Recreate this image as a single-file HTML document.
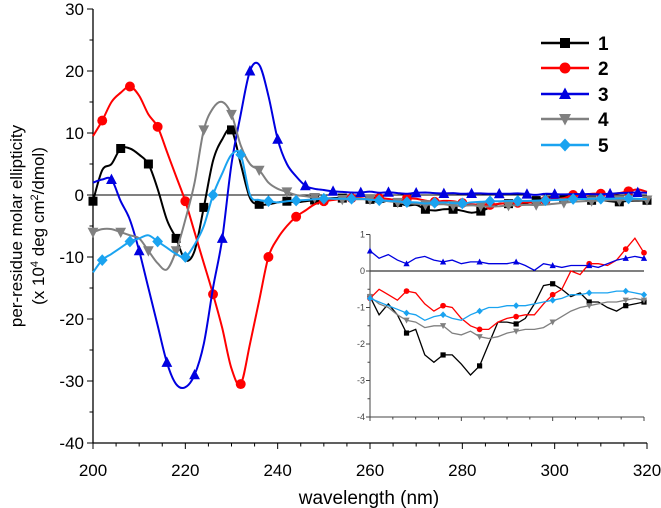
<!DOCTYPE html>
<html><head><meta charset="utf-8"><style>
html,body{margin:0;padding:0;background:#fff;}
svg{display:block;font-family:"Liberation Sans",Arial,sans-serif;}
</style></head><body>
<svg id="chart" width="661" height="508" viewBox="0 0 661 508" xmlns="http://www.w3.org/2000/svg">
<g id="main"></g>
<g id="inset"></g>
<g id="legend"></g>
<text x="369" y="504" font-size="19" text-anchor="middle" fill="#000">wavelength (nm)</text>
<text transform="translate(22,226) rotate(-90)" font-size="17" text-anchor="middle" fill="#000">per-residue molar ellipticity</text>
<text transform="translate(44,226) rotate(-90)" font-size="17" text-anchor="middle" fill="#000">(x 10<tspan font-size="11" dy="-6">4</tspan><tspan dy="6"> deg cm</tspan><tspan font-size="11" dy="-6">2</tspan><tspan dy="6">/dmol)</tspan></text>
</svg>
<script>
const mainX = [200,202,204,206,208,210,212,214,216,218,220,222,224,226,228,230,232,234,236,238,240,242,244,246,248,250,252,254,256,258];
const main1 = [-1,4,5,7.5,7.5,6.5,5,1,-4,-7,-10.5,-9,-2,5.5,9,10.5,5,-0.5,-1.5,-1.5,-1.2,-1,-1.2,-1,-0.8,-0.6,-0.5,-0.5,-0.5,-0.6];
const main2 = [9.5,12,15,16.5,17.5,16,13,11,7,3,-1,-6,-11,-16,-21.5,-28,-30.5,-24,-17,-10,-7,-5,-3.5,-2.5,-1.5,-1,-0.8,-0.6,-0.5,-0.5];
const main3 = [2,2.5,2.5,-1,-4,-9,-15,-21,-27,-30.5,-31,-29,-24,-15,-7,5,13,20,21,16,9,5,3,1.5,1,0.8,0.6,0.5,0.4,0.4];
const main4 = [-6,-5.5,-5.5,-6,-6.5,-7,-9,-11,-12,-9,-4,2,10.5,14,15,13,8,5,4,2,1,0.5,0,-0.2,-0.4,-0.5,-0.6,-0.7,-0.7,-0.7];
const main5 = [-12.5,-10.5,-9.5,-8.5,-7.5,-7,-6.5,-7.5,-8.5,-9.5,-10,-8,-5,0,3.5,6.5,6.5,0,-0.8,-1,-1.2,-1,-0.9,-0.8,-0.7,-0.6,-0.6,-0.6,-0.6,-0.6];
const insetX = [260,262,264,266,268,270,272,274,276,278,280,282,284,286,288,290,292,294,296,298,300,302,304,306,308,310,312,314,316,318,320];
const inset1 = [-0.7,-1.2,-0.9,-1.2,-1.7,-1.6,-2.3,-2.5,-2.3,-2.3,-2.55,-2.85,-2.6,-2.0,-1.4,-1.4,-1.45,-1.3,-0.9,-0.4,-0.35,-0.5,-0.7,-0.6,-0.85,-0.85,-1.0,-1.1,-0.95,-0.9,-0.85];
const inset2 = [-0.75,-0.5,-0.65,-0.8,-0.55,-0.6,-0.9,-1.1,-0.95,-1.0,-1.3,-1.5,-1.6,-1.6,-1.4,-1.3,-1.25,-1.2,-1.2,-0.9,-0.65,-0.5,0,-0.1,0.2,0.2,0.15,0.3,0.6,0.9,0.5];
const inset3 = [0.55,0.35,0.45,0.3,0.2,0.35,0.4,0.3,0.25,0.3,0.2,0.25,0.25,0.2,0.2,0.2,0.25,0.15,0.02,0.2,0.15,0.1,0.15,0.15,0.15,0.1,0.2,0.3,0.35,0.4,0.35];
const inset4 = [-0.7,-0.9,-1.0,-1.2,-1.35,-1.4,-1.55,-1.5,-1.5,-1.7,-1.75,-1.65,-1.8,-1.85,-1.8,-1.7,-1.65,-1.6,-1.6,-1.55,-1.4,-1.25,-1.1,-1.0,-0.95,-0.9,-0.85,-0.85,-0.8,-0.75,-0.8];
const inset5 = [-0.75,-0.85,-0.95,-1.05,-1.15,-1.2,-1.35,-1.25,-1.2,-1.3,-1.35,-1.2,-1.1,-1.0,-1.0,-0.95,-0.95,-0.95,-0.9,-0.85,-0.8,-0.75,-0.65,-0.65,-0.6,-0.6,-0.6,-0.55,-0.55,-0.6,-0.65];
const seriesLabels = ["1","2","3","4","5"];
const xTicks = [200,220,240,260,280,300,320];
const yTicks = [30,20,10,0,-10,-20,-30,-40];
const insetYTicks = [1,0,-1,-2,-3,-4];

const NS="http://www.w3.org/2000/svg";
const colors=["#000000","#ff0000","#0000e0","#808080","#1aa3f0"];
const markers=["square","circle","up","down","diamond"];
const mainSeries=[main1,main2,main3,main4,main5];
const insetSeries=[inset1,inset2,inset3,inset4,inset5];
function mk(tag,attrs,parent){const e=document.createElementNS(NS,tag);for(const k in attrs)e.setAttribute(k,attrs[k]);parent.appendChild(e);return e;}
const mx=v=>93+(v-200)*(647-93)/120;
const my=v=>195-v*6.2;
const ix=v=>370+(v-260)*(644-370)/60;
const iy=v=>271-v*36.5;
function smooth(P){
  let d="M"+P[0][0].toFixed(1)+","+P[0][1].toFixed(1);
  for(let i=0;i<P.length-1;i++){
    const p0=P[Math.max(0,i-1)],p1=P[i],p2=P[i+1],p3=P[Math.min(P.length-1,i+2)];
    const c1x=p1[0]+(p2[0]-p0[0])/6,c1y=p1[1]+(p2[1]-p0[1])/6;
    const c2x=p2[0]-(p3[0]-p1[0])/6,c2y=p2[1]-(p3[1]-p1[1])/6;
    d+=` C${c1x.toFixed(1)},${c1y.toFixed(1)} ${c2x.toFixed(1)},${c2y.toFixed(1)} ${p2[0].toFixed(1)},${p2[1].toFixed(1)}`;
  }
  return d;
}
function marker(g,type,x,y,s,c){
  let e;
  if(type==="square") e=mk("rect",{x:x-s,y:y-s,width:2*s,height:2*s,fill:c},g);
  else if(type==="circle") e=mk("circle",{cx:x,cy:y,r:s*1.1,fill:c},g);
  else if(type==="up") e=mk("polygon",{points:`${x},${y-s*1.3} ${x-s*1.2},${y+s} ${x+s*1.2},${y+s}`,fill:c},g);
  else if(type==="down") e=mk("polygon",{points:`${x},${y+s*1.3} ${x-s*1.2},${y-s} ${x+s*1.2},${y-s}`,fill:c},g);
  else e=mk("polygon",{points:`${x},${y-s*1.3} ${x+s*1.2},${y} ${x},${y+s*1.3} ${x-s*1.2},${y}`,fill:c},g);
  
  
}
const gm=document.getElementById('main');
let z=mk("line",{x1:93,y1:my(0),x2:647,y2:my(0),stroke:"#000","stroke-width":1},gm);


let ya=mk("line",{x1:93,y1:my(30),x2:93,y2:my(-40),stroke:"#000","stroke-width":1.3},gm);


let xa=mk("line",{x1:93,y1:my(-40),x2:647,y2:my(-40),stroke:"#000","stroke-width":1.3},gm);


for(let v=200;v<=320;v+=5){const maj=v%20===0;mk("line",{x1:mx(v),y1:my(-40),x2:mx(v),y2:my(-40)+(maj?6:3.5),stroke:"#000"},gm);}
for(let v=-40;v<=30;v+=5){const maj=v%10===0;mk("line",{x1:93,y1:my(v),x2:93-(maj?6:3.5),y2:my(v),stroke:"#000"},gm);}
xTicks.forEach(v=>{const t=mk("text",{x:mx(v),y:476,"font-size":17,"text-anchor":"middle"},gm);t.textContent=v;

});
yTicks.forEach(v=>{const t=mk("text",{x:84,y:my(v)+6,"font-size":17,"text-anchor":"end"},gm);t.textContent=v;

});
const allX=mainX.concat(insetX);
mainSeries.forEach((s,i)=>{
  const vals=s.concat(insetSeries[i]);
  const g=mk("g",{},gm);
  
  
  const P=allX.map((x,j)=>[mx(x),my(vals[j])]);
  const p=mk("path",{d:smooth(P),fill:"none",stroke:colors[i],"stroke-width":2,"stroke-linejoin":"round"},g);
  
  
  allX.forEach((x,j)=>{if(j%3===i%3) marker(g,markers[i],mx(x),my(vals[j]),4.5,colors[i]);});
});
const gi=document.getElementById('inset');
mk("rect",{x:366,y:225,width:285,height:195,fill:"#fff"},gi);
let iz=mk("line",{x1:370,y1:iy(0),x2:644,y2:iy(0),stroke:"#000","stroke-width":1},gi);


mk("line",{x1:370,y1:iy(1),x2:370,y2:iy(-4),stroke:"#444"},gi);
mk("line",{x1:370,y1:iy(-4),x2:644,y2:iy(-4),stroke:"#444"},gi);
for(let v=260;v<=320;v+=5){mk("line",{x1:ix(v),y1:iy(-4),x2:ix(v),y2:iy(-4)+(v%20===0?4:2.5),stroke:"#444"},gi);}
for(let v=-4;v<=1;v+=0.5){mk("line",{x1:370,y1:iy(v),x2:370-(Number.isInteger(v)?4:2.5),y2:iy(v),stroke:"#444"},gi);}
insetYTicks.forEach(v=>{const t=mk("text",{x:365,y:iy(v)+3,"font-size":9,"text-anchor":"end",fill:"#444"},gi);t.textContent=v;

});
insetSeries.forEach((s,i)=>{
  const g=mk("g",{},gi);
  
  
  const pts=insetX.map((x,j)=>ix(x).toFixed(1)+","+iy(s[j]).toFixed(1)).join(" ");
  const p=mk("polyline",{points:pts,fill:"none",stroke:colors[i],"stroke-width":1.3},g);
  
  
  insetX.forEach((x,j)=>{if(j%4===0||j===insetX.length-1) marker(g,markers[i],ix(x),iy(s[j]),2.6,colors[i]);});
});
const gl=document.getElementById('legend');
const ly=[43,68,94,119,145];
seriesLabels.forEach((lab,i)=>{
  const g=mk("g",{},gl);
  
  
  mk("line",{x1:541,y1:ly[i],x2:589,y2:ly[i],stroke:colors[i],"stroke-width":2.5},g);
  marker(g,markers[i],565,ly[i],5,colors[i]);
  const t=mk("text",{x:598,y:ly[i]+7,"font-size":19,"font-weight":"bold"},g);t.textContent=lab;
});
</script>
</body></html>
